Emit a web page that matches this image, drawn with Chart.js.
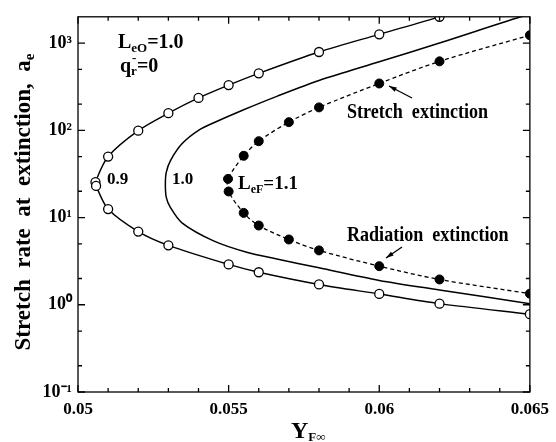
<!DOCTYPE html>
<html>
<head>
<meta charset="utf-8">
<script src="https://cdn.jsdelivr.net/npm/chart.js@4.4.1/dist/chart.umd.min.js"></script>
<style>
  html, body { margin: 0; padding: 0; background: #fff; }
  #wrap { width: 556px; height: 442px; }
</style>
</head>
<body>
<div id="wrap"><canvas id="chart" width="556" height="442"></canvas></div>
<script>
// Valores (Y_F∞ frente a a_e)
const curve09X = [0.0630, 0.0620, 0.0600, 0.0580, 0.0560, 0.0550, 0.0540, 0.0530, 0.0520, 0.0510, 0.05058, 0.0506, 0.0510, 0.0520, 0.0530, 0.0550, 0.0560, 0.0580, 0.0600, 0.0620, 0.0650];
const curve09Y = [2600, 2000, 1260, 790, 450, 330, 235, 157, 99, 50, 25.5, 23, 12.5, 6.9, 4.8, 2.9, 2.36, 1.71, 1.33, 1.03, 0.78];

const curve10X = [0.0652, 0.0647, 0.0620, 0.0600, 0.0580, 0.0566, 0.0555, 0.0546, 0.0540, 0.05345, 0.05307, 0.05293, 0.0529, 0.05293, 0.05307, 0.05345, 0.0545, 0.0556, 0.0566, 0.0580, 0.0600, 0.0620, 0.0650];
const curve10Y = [2200, 2000, 1000, 610, 372, 245, 172, 126, 100, 70, 45, 33, 24, 17, 13, 8.7, 5.4, 4.0, 3.35, 2.65, 1.9, 1.48, 1.03];

const curve11X = [0.0650, 0.0620, 0.0600, 0.0580, 0.0570, 0.0560, 0.0555, 0.05498, 0.0550, 0.0555, 0.0560, 0.0570, 0.0580, 0.0600, 0.0620, 0.0650];
const curve11Y = [1230, 617, 344, 183, 124, 75, 51, 27.7, 19.9, 11.3, 8.1, 5.6, 4.2, 2.77, 1.95, 1.34];

const xTicks = [0.05, 0.055, 0.06, 0.065];
const xMinorTicks = [0.051, 0.052, 0.053, 0.054, 0.056, 0.057, 0.058, 0.059, 0.061, 0.062, 0.063, 0.064];
const yTicks = [0.1, 1, 10, 100, 1000];
const yMinorTicks = [0.2, 0.5, 2, 5, 20, 50, 200, 500];

const SERIF = '"Liberation Serif", "Times New Roman", serif';
const SUP = { '0': '⁰', '1': '¹', '2': '²', '3': '³', '-': '⁻' };

function toPoints(xs, ys) {
    return xs.map((x, i) => ({ x: x, y: ys[i] }));
}

function supLabel(value) {
    const exp = String(Math.round(Math.log10(value)));
    return '10' + exp.split('').map(c => SUP[c]).join('');
}

// Texto con subindices / superindices
function drawRich(ctx, x, y, parts, opts) {
    opts = opts || {};
    ctx.save();
    ctx.translate(x, y);
    if (opts.rotate) ctx.rotate(opts.rotate);
    ctx.scale(opts.sx || 1, opts.sy || 1);
    ctx.textAlign = 'left';
    ctx.textBaseline = 'alphabetic';
    let total = 0;
    parts.forEach(p => {
        ctx.font = `bold ${p.size}px ${SERIF}`;
        if (!p.overlay) total += ctx.measureText(p.text).width;
    });
    let cx = opts.center ? -total / 2 : 0;
    parts.forEach(p => {
        ctx.font = `bold ${p.size}px ${SERIF}`;
        ctx.fillText(p.text, cx + (p.dx || 0), p.dy || 0);
        if (!p.overlay) cx += ctx.measureText(p.text).width;
    });
    ctx.restore();
}

function drawArrow(ctx, x1, y1, x2, y2) {
    const ang = Math.atan2(y2 - y1, x2 - x1);
    const len = 8;
    ctx.beginPath();
    ctx.moveTo(x1, y1);
    ctx.lineTo(x2, y2);
    ctx.lineWidth = 1.3;
    ctx.stroke();
    ctx.beginPath();
    ctx.moveTo(x2, y2);
    ctx.lineTo(x2 - len * Math.cos(ang - 0.3), y2 - len * Math.sin(ang - 0.3));
    ctx.lineTo(x2 - len * Math.cos(ang + 0.3), y2 - len * Math.sin(ang + 0.3));
    ctx.closePath();
    ctx.fill();
}

// Marco con marcas hacia dentro en los cuatro lados
const frameTicks = {
    id: 'frameTicks',
    afterDatasetsDraw(chart) {
        const { ctx, chartArea: a, scales: { x, y } } = chart;
        ctx.save();
        ctx.strokeStyle = '#000';
        ctx.lineWidth = 1.3;
        ctx.strokeRect(a.left, a.top, a.right - a.left, a.bottom - a.top);
        ctx.beginPath();
        const xMark = (v, len) => {
            const px = x.getPixelForValue(v);
            ctx.moveTo(px, a.bottom); ctx.lineTo(px, a.bottom - len);
            ctx.moveTo(px, a.top); ctx.lineTo(px, a.top + len);
        };
        const yMark = (v, len) => {
            const py = y.getPixelForValue(v);
            ctx.moveTo(a.left, py); ctx.lineTo(a.left + len, py);
            ctx.moveTo(a.right, py); ctx.lineTo(a.right - len, py);
        };
        xTicks.forEach(v => xMark(v, 7));
        xMinorTicks.forEach(v => xMark(v, 4));
        yTicks.forEach(v => yMark(v, 7));
        yMinorTicks.forEach(v => yMark(v, 4));
        ctx.stroke();
        ctx.restore();
    },
    afterDraw(chart) {
        const ctx = chart.ctx;
        ctx.save();
        ctx.fillStyle = '#000';
        ctx.strokeStyle = '#000';

        // Titulos de ejes
        drawRich(ctx, 30, 202, [
            { text: 'Stretch  rate  at  extinction,  a', size: 23 },
            { text: 'e', size: 15, dy: 4 }
        ], { rotate: -Math.PI / 2, center: true });
        drawRich(ctx, 291, 438, [
            { text: 'Y', size: 24 },
            { text: 'F∞', size: 13, dy: 3 }
        ]);

        // Parametros
        drawRich(ctx, 118, 48, [
            { text: 'L', size: 20 },
            { text: 'eO', size: 13, dy: 4 },
            { text: '=1.0', size: 20 }
        ]);
        drawRich(ctx, 120, 72, [
            { text: 'q', size: 20 },
            { text: 'r', size: 13, dy: 3 },
            { text: '-', size: 13, dy: -10, dx: -5, overlay: true },
            { text: '=0', size: 20 }
        ]);

        // Etiquetas de curvas
        drawRich(ctx, 107, 184, [{ text: '0.9', size: 17 }]);
        drawRich(ctx, 172, 184, [{ text: '1.0', size: 17 }]);
        drawRich(ctx, 238, 189, [
            { text: 'L', size: 19 },
            { text: 'eF', size: 12, dy: 4 },
            { text: '=1.1', size: 19 }
        ]);

        drawRich(ctx, 347, 118, [{ text: 'Stretch  extinction', size: 21 }], { sx: 0.86 });
        drawRich(ctx, 347, 241, [{ text: 'Radiation  extinction', size: 21 }], { sx: 0.86 });
        drawArrow(ctx, 412, 98, 389, 86);
        drawArrow(ctx, 402, 247, 386, 258);
        ctx.restore();
    }
};

const tickFont = { family: SERIF, size: 17, weight: 'bold' };

new Chart(document.getElementById('chart').getContext('2d'), {
    type: 'scatter',
    data: {
        datasets: [
            {
                label: '0.9',
                data: toPoints(curve09X, curve09Y),
                showLine: true,
                borderColor: '#000',
                borderWidth: 1.4,
                tension: 0.3,
                clip: 0,
                pointRadius: ctx => (ctx.dataIndex === 0 ? 0 : 4.5),
                pointBackgroundColor: '#fff',
                pointBorderColor: '#000',
                pointBorderWidth: 1.3
            },
            {
                label: '1.0',
                data: toPoints(curve10X, curve10Y),
                showLine: true,
                borderColor: '#000',
                borderWidth: 1.5,
                tension: 0.3,
                clip: 0,
                pointRadius: 0
            },
            {
                label: '1.1',
                data: toPoints(curve11X, curve11Y),
                showLine: true,
                borderColor: '#000',
                borderWidth: 1.3,
                borderDash: [4, 3],
                tension: 0.3,
                clip: 0,
                pointRadius: 4.5,
                pointBackgroundColor: '#000',
                pointBorderColor: '#000',
                pointBorderWidth: 1
            }
        ]
    },
    options: {
        responsive: false,
        animation: false,
        layout: { padding: { left: 0, right: 21, top: 12, bottom: 0 } },
        plugins: {
            legend: { display: false },
            tooltip: { enabled: false }
        },
        scales: {
            x: {
                type: 'linear',
                min: 0.05,
                max: 0.065,
                afterBuildTicks: scale => { scale.ticks = xTicks.map(v => ({ value: v })); },
                afterFit: scale => { scale.height = 50; },
                grid: { display: false, drawTicks: false },
                border: { display: false },
                ticks: {
                    font: tickFont,
                    color: '#000',
                    padding: 7,
                    maxRotation: 0,
                    autoSkip: false,
                    callback: v => String(v)
                }
            },
            y: {
                type: 'logarithmic',
                min: 0.1,
                max: 2000,
                afterBuildTicks: scale => { scale.ticks = yTicks.map(v => ({ value: v })); },
                afterFit: scale => { scale.width = 78; },
                grid: { display: false, drawTicks: false },
                border: { display: false },
                ticks: {
                    font: { family: SERIF, size: 18, weight: 'bold' },
                    color: '#000',
                    padding: 6,
                    autoSkip: false,
                    callback: v => supLabel(v)
                }
            }
        }
    },
    plugins: [frameTicks]
});
</script>
</body>
</html>
